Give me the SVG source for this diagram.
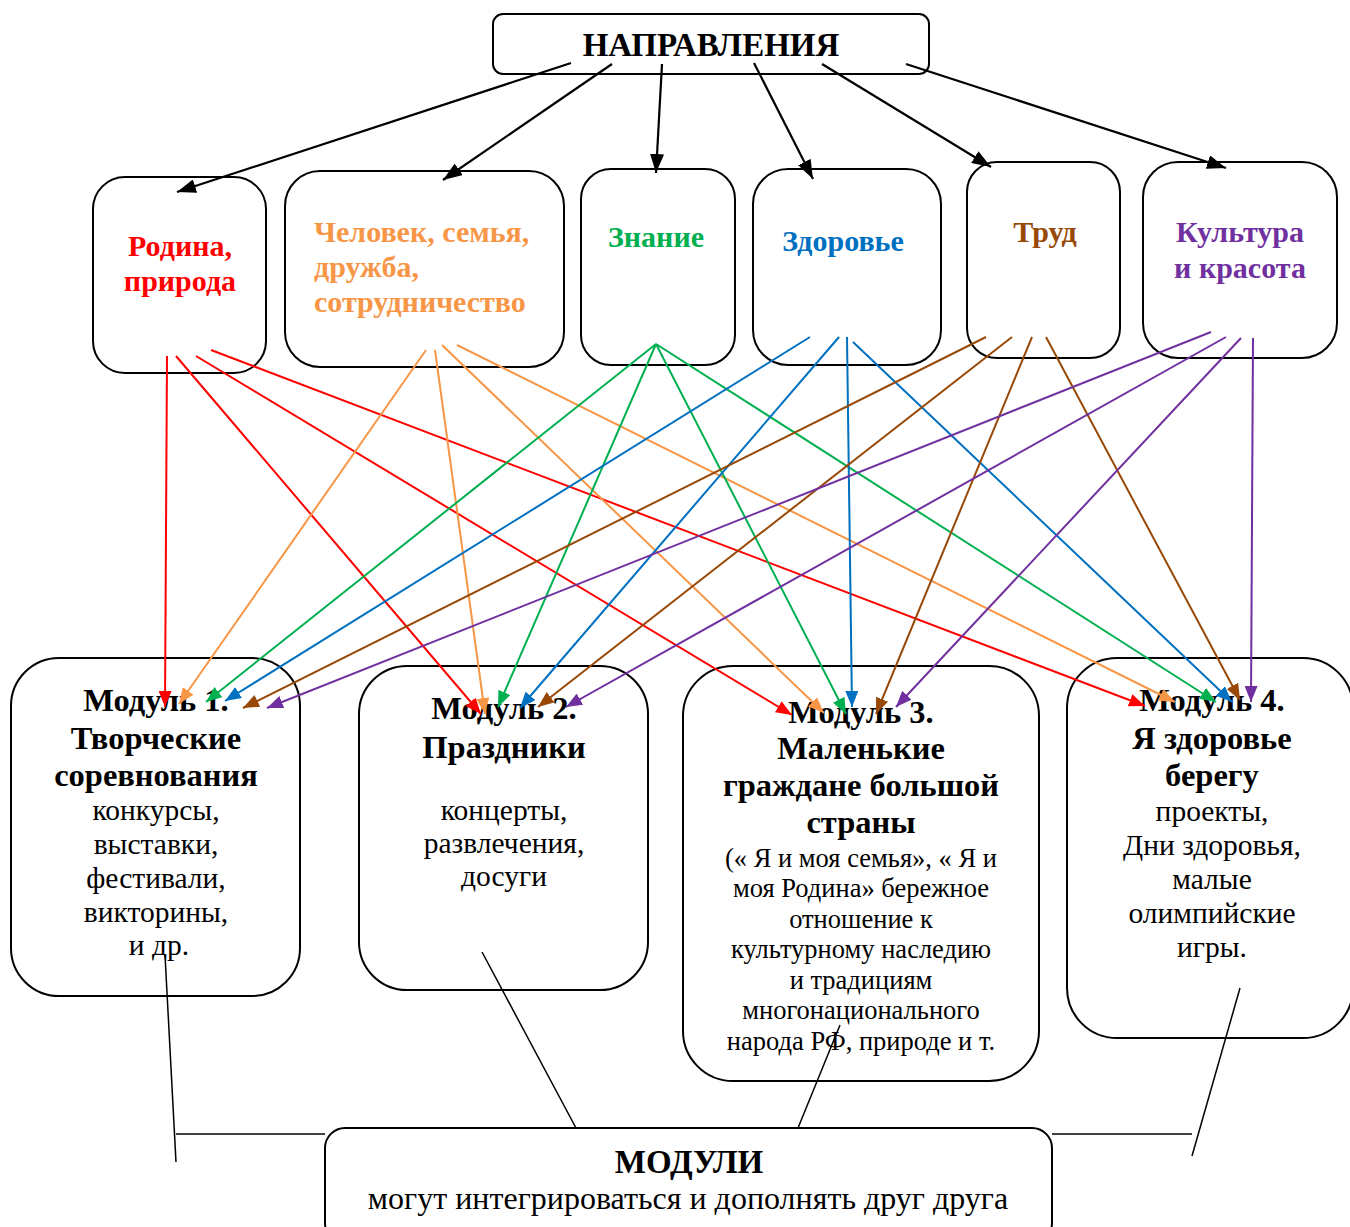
<svg xmlns="http://www.w3.org/2000/svg" width="1350" height="1227" viewBox="0 0 1350 1227">
<defs>
<style>
.box{fill:#fff;stroke:#000;stroke-width:2}
.t{font-family:"Liberation Serif","Times New Roman",serif;text-anchor:middle;fill:#000}
.b{font-weight:bold}
.h{font-size:32.5px;font-weight:bold}
.n{font-size:29.5px}
.s{font-size:26.5px}
.dir{font-family:"Liberation Serif","Times New Roman",serif;font-weight:bold;font-size:30px}
.c{stroke-width:2;fill:none}
.k{stroke:#000;stroke-width:2.2;fill:none}
.thin{stroke:#000;stroke-width:1.5;fill:none}
</style>
<marker id="mk" markerUnits="userSpaceOnUse" markerWidth="20" markerHeight="14" refX="19" refY="7" orient="auto"><path d="M0,0 L19,7 L0,14 z" fill="#000"/></marker>
<marker id="mr" markerUnits="userSpaceOnUse" markerWidth="17" markerHeight="13" refX="16" refY="6.5" orient="auto"><path d="M0,0 L16,6.5 L0,13 z" fill="#FF0000"/></marker>
<marker id="mo" markerUnits="userSpaceOnUse" markerWidth="17" markerHeight="13" refX="16" refY="6.5" orient="auto"><path d="M0,0 L16,6.5 L0,13 z" fill="#F79646"/></marker>
<marker id="mg" markerUnits="userSpaceOnUse" markerWidth="17" markerHeight="13" refX="16" refY="6.5" orient="auto"><path d="M0,0 L16,6.5 L0,13 z" fill="#00B050"/></marker>
<marker id="mb" markerUnits="userSpaceOnUse" markerWidth="17" markerHeight="13" refX="16" refY="6.5" orient="auto"><path d="M0,0 L16,6.5 L0,13 z" fill="#0070C0"/></marker>
<marker id="mn" markerUnits="userSpaceOnUse" markerWidth="17" markerHeight="13" refX="16" refY="6.5" orient="auto"><path d="M0,0 L16,6.5 L0,13 z" fill="#984807"/></marker>
<marker id="mp" markerUnits="userSpaceOnUse" markerWidth="17" markerHeight="13" refX="16" refY="6.5" orient="auto"><path d="M0,0 L16,6.5 L0,13 z" fill="#7030A0"/></marker>
</defs>
<rect width="1350" height="1227" fill="#fff"/>

<g id="napravleniya">
<rect class="box" x="493" y="14" width="436" height="60" rx="10"/>
<text class="t b" x="711" y="56" font-size="33">НАПРАВЛЕНИЯ</text>
</g>

<g id="rodina">
<rect class="box" x="93" y="177" width="173" height="196" rx="32"/>
<text class="dir" x="180" y="256" fill="#FF0000" text-anchor="middle">Родина,</text>
<text class="dir" x="180" y="291" fill="#FF0000" text-anchor="middle">природа</text>
</g>
<g id="chelovek">
<rect class="box" x="285" y="171" width="279" height="196" rx="35"/>
<text class="dir" x="314" y="242" fill="#F79646">Человек, семья,</text>
<text class="dir" x="314" y="277" fill="#F79646">дружба,</text>
<text class="dir" x="314" y="312" fill="#F79646">сотрудничество</text>
</g>
<g id="znanie">
<rect class="box" x="581" y="169" width="154" height="196" rx="30"/>
<text class="dir" x="656" y="247" fill="#00B050" text-anchor="middle">Знание</text>
</g>
<g id="zdorovie">
<rect class="box" x="753" y="169" width="188" height="196" rx="35"/>
<text class="dir" x="843" y="251" fill="#0070C0" text-anchor="middle">Здоровье</text>
</g>
<g id="trud">
<rect class="box" x="967" y="162" width="153" height="196" rx="30"/>
<text class="dir" x="1045" y="242" fill="#984807" text-anchor="middle">Труд</text>
</g>
<g id="kultura">
<rect class="box" x="1143" y="162" width="194" height="196" rx="35"/>
<text class="dir" x="1240" y="242" fill="#7030A0" text-anchor="middle">Культура</text>
<text class="dir" x="1240" y="278" fill="#7030A0" text-anchor="middle">и красота</text>
</g>

<g id="modul1">
<rect class="box" x="11" y="658" width="289" height="338" rx="48"/>
<text class="t h" x="156" y="711">Модуль 1.</text>
<text class="t h" x="156" y="749">Творческие</text>
<text class="t h" x="156" y="786">соревнования</text>
<text class="t n" x="156" y="820">конкурсы,</text>
<text class="t n" x="156" y="854">выставки,</text>
<text class="t n" x="156" y="888">фестивали,</text>
<text class="t n" x="156" y="922">викторины,</text>
<text class="t n" x="159" y="955">и др.</text>
</g>
<g id="modul2">
<rect class="box" x="359" y="666" width="289" height="324" rx="48"/>
<text class="t h" x="504" y="719">Модуль 2.</text>
<text class="t h" x="504" y="758">Праздники</text>
<text class="t n" x="504" y="820">концерты,</text>
<text class="t n" x="504" y="853">развлечения,</text>
<text class="t n" x="504" y="886">досуги</text>
</g>
<g id="modul3">
<rect class="box" x="683" y="666" width="356" height="415" rx="50"/>
<text class="t h" x="861" y="723">Модуль 3.</text>
<text class="t h" x="861" y="759">Маленькие</text>
<text class="t h" x="861" y="796">граждане большой</text>
<text class="t h" x="861" y="833">страны</text>
<text class="t s" x="861" y="867">(« Я и моя семья», « Я и</text>
<text class="t s" x="861" y="897">моя Родина» бережное</text>
<text class="t s" x="861" y="928">отношение к</text>
<text class="t s" x="861" y="958">культурному наследию</text>
<text class="t s" x="861" y="989">и традициям</text>
<text class="t s" x="861" y="1019">многонационального</text>
<text class="t s" x="861" y="1050">народа РФ, природе и т.</text>
</g>
<g id="modul4">
<rect class="box" x="1067" y="658" width="286" height="380" rx="50"/>
<text class="t h" x="1212" y="711">Модуль 4.</text>
<text class="t h" x="1212" y="749">Я здоровье</text>
<text class="t h" x="1212" y="786">берегу</text>
<text class="t n" x="1212" y="821">проекты,</text>
<text class="t n" x="1212" y="855">Дни здоровья,</text>
<text class="t n" x="1212" y="889">малые</text>
<text class="t n" x="1212" y="923">олимпийские</text>
<text class="t n" x="1212" y="957">игры.</text>
</g>

<g id="moduli">
<rect class="box" x="325" y="1128" width="727" height="115" rx="20"/>
<text class="t b" x="689" y="1173" font-size="33">МОДУЛИ</text>
<text class="t" x="688" y="1209" font-size="32">могут интегрироваться и дополнять друг друга</text>
</g>

<g id="connectors">
<line class="k" x1="571" y1="63" x2="177" y2="192" marker-end="url(#mk)"/>
<line class="k" x1="612" y1="64" x2="443" y2="180" marker-end="url(#mk)"/>
<line class="k" x1="662" y1="64" x2="656" y2="173" marker-end="url(#mk)"/>
<line class="k" x1="754" y1="63" x2="813" y2="179" marker-end="url(#mk)"/>
<line class="k" x1="822" y1="64" x2="991" y2="167" marker-end="url(#mk)"/>
<line class="k" x1="906" y1="64" x2="1226" y2="168" marker-end="url(#mk)"/>

<g stroke="#FF0000" class="c">
<line x1="167" y1="356" x2="165" y2="707" marker-end="url(#mr)"/>
<line x1="176" y1="356" x2="481" y2="714" marker-end="url(#mr)"/>
<line x1="196" y1="356" x2="792" y2="715" marker-end="url(#mr)"/>
<line x1="211" y1="350" x2="1145" y2="706" marker-end="url(#mr)"/>
</g>
<g stroke="#F79646" class="c">
<line x1="426" y1="350" x2="179" y2="704" marker-end="url(#mo)"/>
<line x1="435" y1="350" x2="485" y2="714" marker-end="url(#mo)"/>
<line x1="442" y1="345" x2="824" y2="713" marker-end="url(#mo)"/>
<line x1="457" y1="345" x2="1175" y2="702" marker-end="url(#mo)"/>
</g>
<g stroke="#00B050" class="c">
<line x1="656" y1="344" x2="206" y2="702" marker-end="url(#mg)"/>
<line x1="656" y1="344" x2="498" y2="707" marker-end="url(#mg)"/>
<line x1="656" y1="344" x2="846" y2="714" marker-end="url(#mg)"/>
<line x1="656" y1="344" x2="1216" y2="702" marker-end="url(#mg)"/>
</g>
<g stroke="#0070C0" class="c">
<line x1="810" y1="337" x2="225" y2="701" marker-end="url(#mb)"/>
<line x1="839" y1="337" x2="520" y2="708" marker-end="url(#mb)"/>
<line x1="847" y1="337" x2="852" y2="707" marker-end="url(#mb)"/>
<line x1="853" y1="342" x2="1232" y2="702" marker-end="url(#mb)"/>
</g>
<g stroke="#984807" class="c">
<line x1="986" y1="337" x2="243" y2="708" marker-end="url(#mn)"/>
<line x1="1012" y1="337" x2="538" y2="707" marker-end="url(#mn)"/>
<line x1="1032" y1="337" x2="876" y2="714" marker-end="url(#mn)"/>
<line x1="1046" y1="337" x2="1240" y2="700" marker-end="url(#mn)"/>
</g>
<g stroke="#7030A0" class="c">
<line x1="1211" y1="332" x2="267" y2="708" marker-end="url(#mp)"/>
<line x1="1226" y1="337" x2="566" y2="707" marker-end="url(#mp)"/>
<line x1="1241" y1="338" x2="896" y2="707" marker-end="url(#mp)"/>
<line x1="1253" y1="338" x2="1251" y2="702" marker-end="url(#mp)"/>
</g>

<line class="thin" x1="176" y1="1134" x2="325" y2="1134"/>
<line class="thin" x1="1052" y1="1134" x2="1192" y2="1134"/>
<line class="thin" x1="165" y1="955" x2="176" y2="1162"/>
<line class="thin" x1="482" y1="952" x2="576" y2="1128"/>
<line class="thin" x1="840" y1="1025" x2="798" y2="1128"/>
<line class="thin" x1="1240" y1="988" x2="1192" y2="1156"/>
</g>
</svg>
